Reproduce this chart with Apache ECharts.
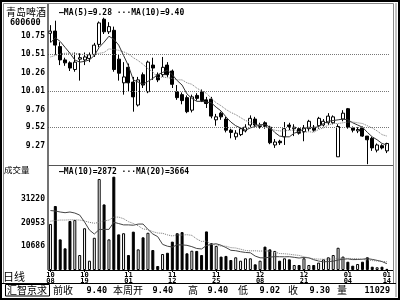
<!DOCTYPE html>
<html><head><meta charset="utf-8">
<script src="https://cdn.jsdelivr.net/npm/echarts@6/dist/echarts.min.js"></script>
<style>html,body{margin:0;padding:0;background:#fff}#c{width:400px;height:300px}</style>
</head><body><div id="c"></div>
<script>
// ---------- data ----------
const dates = ['10-08','10-11','10-12','10-13','10-14','10-15','10-18','10-19','10-20','10-21','10-22','10-25','10-26','10-27','10-28','10-29',
'11-01','11-02','11-03','11-04','11-05','11-08','11-09','11-10','11-11','11-12','11-15','11-16','11-17','11-18','11-19','11-22','11-23','11-24','11-25','11-26','11-29','11-30',
'12-01','12-02','12-03','12-06','12-07','12-08','12-09','12-10','12-13','12-14','12-15','12-16','12-17','12-20','12-21','12-22','12-23','12-24','12-27','12-28','12-29','12-30','12-31',
'01-04','01-05','01-06','01-07','01-10','01-11','01-12','01-13','01-14'];
const labelDates = ['10-08','10-19','11-01','11-12','11-25','12-08','12-21','01-04','01-14'];
const openP  = [10.79,10.82,10.61,10.43,10.39,10.30,10.44,10.43,10.45,10.50,10.64,10.98,10.81,10.83,10.44,10.12,10.33,10.13,9.82,10.23,10.00,10.36,10.23,10.23,10.36,10.28,10.00,9.96,9.92,9.75,9.95,10.00,9.89,9.90,9.62,9.71,9.63,9.48,9.39,9.42,9.47,9.55,9.63,9.53,9.58,9.52,9.28,9.33,9.39,9.55,9.50,9.50,9.46,9.50,9.52,9.54,9.55,9.58,9.58,9.12,9.63,9.77,9.51,9.47,9.51,9.40,9.37,9.21,9.27,9.20];
const closeP = [10.82,10.63,10.43,10.39,10.32,10.40,10.46,10.47,10.50,10.63,10.93,10.81,10.88,10.30,10.25,10.20,10.12,9.93,10.16,10.09,10.40,10.32,10.16,10.33,10.23,10.10,9.92,9.88,9.73,9.93,9.91,9.88,9.84,9.67,9.66,9.66,9.48,9.45,9.44,9.50,9.52,9.64,9.55,9.55,9.53,9.31,9.32,9.31,9.50,9.53,9.52,9.44,9.51,9.60,9.48,9.64,9.60,9.67,9.66,9.53,9.71,9.52,9.48,9.49,9.40,9.35,9.24,9.28,9.24,9.30];
const lowP   = [10.67,10.50,10.36,10.35,10.28,10.27,10.15,10.36,10.40,10.47,10.60,10.78,10.78,10.27,10.15,9.96,10.00,9.73,9.80,10.05,9.98,10.16,10.13,10.20,10.20,10.05,9.89,9.83,9.71,9.72,9.88,9.86,9.78,9.64,9.54,9.62,9.45,9.37,9.35,9.40,9.45,9.52,9.53,9.50,9.50,9.29,9.24,9.28,9.28,9.48,9.40,9.42,9.33,9.47,9.46,9.50,9.53,9.55,9.56,9.12,9.60,9.50,9.45,9.44,9.39,9.02,9.20,9.18,9.22,9.17];
const highP  = [10.90,10.96,10.67,10.46,10.41,10.53,10.52,10.53,10.53,10.66,10.95,11.00,10.94,10.88,10.50,10.40,10.38,10.20,10.20,10.26,10.42,10.46,10.26,10.47,10.40,10.30,10.09,9.99,9.95,9.96,9.98,10.03,9.93,9.93,9.70,9.73,9.66,9.50,9.48,9.52,9.56,9.68,9.66,9.58,9.60,9.54,9.36,9.35,9.59,9.58,9.56,9.52,9.55,9.62,9.55,9.66,9.63,9.71,9.68,9.56,9.75,9.78,9.53,9.52,9.53,9.40,9.39,9.30,9.29,9.31];
const ma5  = [10.66,10.73,10.68,10.60,10.52,10.43,10.40,10.41,10.43,10.49,10.60,10.67,10.75,10.71,10.63,10.49,10.35,10.16,10.13,10.10,10.14,10.18,10.23,10.26,10.29,10.23,10.15,10.09,9.97,9.91,9.87,9.87,9.86,9.85,9.79,9.74,9.66,9.59,9.54,9.51,9.48,9.51,9.53,9.55,9.56,9.52,9.45,9.40,9.39,9.39,9.44,9.46,9.50,9.52,9.51,9.53,9.57,9.60,9.61,9.62,9.63,9.62,9.58,9.55,9.52,9.45,9.39,9.35,9.30,9.28];
const ma10 = [10.47,10.49,10.51,10.52,10.52,10.52,10.51,10.50,10.50,10.51,10.52,10.53,10.58,10.57,10.56,10.54,10.51,10.46,10.42,10.37,10.31,10.27,10.19,10.20,10.19,10.18,10.16,10.16,10.12,10.10,10.05,10.01,9.98,9.91,9.85,9.81,9.76,9.72,9.69,9.65,9.61,9.59,9.56,9.55,9.53,9.50,9.48,9.47,9.47,9.48,9.48,9.46,9.45,9.46,9.45,9.49,9.51,9.55,9.57,9.57,9.58,9.59,9.59,9.58,9.57,9.54,9.51,9.47,9.42,9.40];
const volume = [20300,28200,13500,9550,21600,22000,6600,18400,4100,14200,40100,28900,13500,41100,15700,16200,6600,16900,9100,14400,16400,8800,1760,7050,7600,12500,16200,16700,7350,8500,8400,6600,17000,11800,10600,5900,6200,4400,5600,4100,5150,5150,2500,4100,10300,9100,8400,4100,5150,4700,2200,2200,5150,2200,2200,3250,4700,5600,6600,9800,5900,3650,1900,2650,3650,5600,1450,1200,1450,500];
const volMa10 = [26200,26000,25550,25250,25550,25100,24200,21150,17600,15845,17825,17895,17895,21050,20460,19880,19880,19730,20230,20250,17880,15870,14696,11291,10481,10111,11071,11051,10876,10286,9486,9266,10790,11265,11565,10905,9905,8675,8500,8060,7735,7590,6140,5370,5340,5660,5880,5850,5805,5865,5570,5275,5540,5350,4540,3955,3585,3735,3880,4390,4760,4905,4580,4625,4770,5005,4680,4240,3725,2795];
const volMa20 = [21500,21800,22000,22000,22100,22100,22000,21600,21000,20600,21000,21600,22000,23300,23300,22600,21300,20500,19500,18048,17853,16883,16296,16171,15471,14996,15476,15391,15553,15268,13683,12568,12743,11278,11023,10508,10488,9863,9688,9173,8611,8428,8465,8318,8453,8283,7893,7263,7153,6963,6653,6433,5840,5360,4940,4808,4733,4793,4843,5128,5165,5090,5060,4988,4655,4480,4133,3988,3803,3593];
const priceTicks = [10.75,10.51,10.26,10.01,9.76,9.52,9.27];
const priceGridLines = [10.51,10.01,9.52];
const volumeTicks = [31220,20953,10686];
const stockName = '青岛啤酒', stockCode = '600600';
const priceLegendText = '—MA(5)=9.28 ···MA(10)=9.40';
const volLegendText = '—MA(10)=2872 ···MA(20)=3664';
const volPanelTitle = '成交量', periodText = '日线', brokerText = '汇智京求';
const infoLabels = ['前收','本周开','高','低','收','量'];
const infoValues = ['9.40','9.40','9.40','9.02','9.30','11029'];

// ---------- chart ----------
const MONO = '"DejaVu Sans Mono", monospace';
const CJK = '"Noto Sans CJK SC", sans-serif';
const chart = echarts.init(document.getElementById('c'), null, {renderer:'canvas', width:400, height:300});
const ohlc = dates.map((d,i)=>[openP[i], closeP[i], lowP[i], highP[i]]);
const volData = volume.map((v,i)=>({value:v, itemStyle:{color: closeP[i] >= openP[i] ? '#fff' : '#000'}}));
const showLabel = (idx, val) => labelDates.indexOf(val) >= 0;

const infoLabelX = [53,113,188,238,288,337];
const infoValueX = [107,173,228,280,330,390];
const graphic = [
  {type:'rect', shape:{x:1,y:1,width:398,height:298}, style:{fill:null, stroke:'#000', lineWidth:2}, z:10},
  {type:'rect', shape:{x:3.5,y:3.5,width:390,height:280}, style:{fill:null, stroke:'#888', lineWidth:1}, z:10},
  {type:'line', shape:{x1:396,y1:3,x2:396,y2:297}, style:{stroke:'#888', lineWidth:1}, z:10},
  {type:'line', shape:{x1:48,y1:4,x2:48,y2:270}, style:{stroke:'#444', lineWidth:1.5}, z:10},
  {type:'line', shape:{x1:48,y1:165.5,x2:393,y2:165.5}, style:{stroke:'#555', lineWidth:1}, z:10},
  {type:'line', shape:{x1:48,y1:270.5,x2:393,y2:270.5}, style:{stroke:'#000', lineWidth:1}, z:10},
  {type:'line', shape:{x1:1,y1:283.5,x2:396,y2:283.5}, style:{stroke:'#000', lineWidth:1}, z:10},
  {type:'rect', shape:{x:5.5,y:284.5,width:44,height:11.5}, style:{fill:null, stroke:'#000', lineWidth:1}, z:10},
  {type:'text', x:6, y:12, style:{text:stockName, font:'10px '+CJK, fill:'#000', verticalAlign:'middle'}, z:10},
  {type:'text', x:10, y:22.5, style:{text:stockCode, font:'bold 8.5px '+MONO, fill:'#000', verticalAlign:'middle'}, z:10},
  {type:'text', x:59, y:12.5, style:{text:priceLegendText, font:'bold 8px '+MONO, fill:'#000', verticalAlign:'middle'}, z:10},
  {type:'text', x:4, y:169.5, style:{text:volPanelTitle, font:'8.5px '+CJK, fill:'#000', verticalAlign:'middle'}, z:10},
  {type:'text', x:59, y:171.5, style:{text:volLegendText, font:'bold 8px '+MONO, fill:'#000', verticalAlign:'middle'}, z:10},
  {type:'text', x:3, y:277, style:{text:periodText, font:'11px '+CJK, fill:'#000', verticalAlign:'middle'}, z:10},
  {type:'text', x:7, y:290.5, style:{text:brokerText, font:'10px '+CJK, fill:'#000', verticalAlign:'middle'}, z:10}
];
infoLabels.forEach((t,i)=>{
  graphic.push({type:'text', x:infoLabelX[i], y:290.5, style:{text:t, font:'10px '+CJK, fill:'#000', verticalAlign:'middle'}, z:10});
  graphic.push({type:'text', x:infoValueX[i], y:291, style:{text:infoValues[i], font:'bold 8.5px '+MONO, fill:'#000', align:'right', verticalAlign:'middle'}, z:10});
});

const yLabel = {fontFamily:MONO, fontSize:8, fontWeight:'bold', color:'#000', margin:3};
chart.setOption({
  animation:false,
  backgroundColor:'#fff',
  grid:[{left:48, top:4, width:341.3, height:161}, {left:48, top:165, width:341.3, height:105}],
  xAxis:[
    {type:'category', gridIndex:0, data:dates, show:false},
    {type:'category', gridIndex:1, data:dates, axisLine:{show:false},
     axisTick:{show:true, interval:showLabel, alignWithLabel:true, length:2, lineStyle:{color:'#000'}},
     axisLabel:{interval:showLabel, formatter:v=>v.replace('-','\n'), fontFamily:MONO, fontSize:7, fontWeight:'bold', lineHeight:6.5, margin:1.5, color:'#000'}}
  ],
  yAxis:[
    {type:'value', gridIndex:0, min:9.009, max:11.186, axisLine:{show:false}, axisTick:{show:false}, splitLine:{show:false},
     axisLabel:Object.assign({customValues:priceTicks, formatter:v=>Number(v).toFixed(2)}, yLabel)},
    {type:'value', gridIndex:1, min:0, max:46263, axisLine:{show:false}, axisTick:{show:false}, splitLine:{show:false},
     axisLabel:Object.assign({customValues:volumeTicks, formatter:v=>String(Math.round(v))}, yLabel)}
  ],
  series:[
    {type:'candlestick', xAxisIndex:0, yAxisIndex:0, data:ohlc, barWidth:3.5,
     itemStyle:{color:'#fff', color0:'#000', borderColor:'#000', borderColor0:'#000', borderWidth:1},
     markLine:{silent:true, symbol:['none','none'], label:{show:false}, lineStyle:{type:'dotted', color:'#777', width:1},
       data:priceGridLines.map(v=>({yAxis:v}))}},
    {type:'line', xAxisIndex:0, yAxisIndex:0, data:ma5, symbol:'none', lineStyle:{color:'#333', width:1}},
    {type:'line', xAxisIndex:0, yAxisIndex:0, data:ma10, symbol:'none', lineStyle:{color:'#777', width:1, type:'dotted'}},
    {type:'bar', xAxisIndex:1, yAxisIndex:1, data:volData, barWidth:3, itemStyle:{borderColor:'#000', borderWidth:1}},
    {type:'line', xAxisIndex:1, yAxisIndex:1, data:volMa10, symbol:'none', lineStyle:{color:'#444', width:1}},
    {type:'line', xAxisIndex:1, yAxisIndex:1, data:volMa20, symbol:'none', lineStyle:{color:'#777', width:1, type:'dotted'}}
  ],
  graphic:graphic
});
</script></body></html>
